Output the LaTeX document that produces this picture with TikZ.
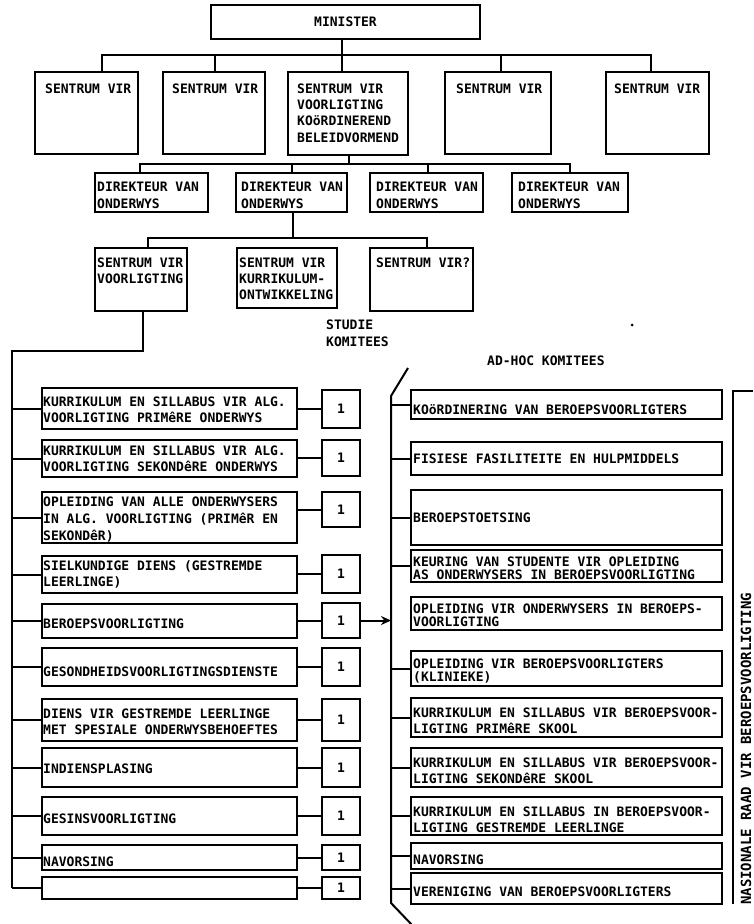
\documentclass[tikz,border=0pt]{standalone}
\usepackage{fontspec}
\newfontfamily\tw{DejaVu Sans Mono}[BoldFont={DejaVu Sans Mono Bold}]
\usetikzlibrary{arrows.meta}
\newcommand\mkbox[5]{\node[bx, minimum width={(#4)-(#2)}, minimum height={(#5)-(#3)}] (#1) at ({((#2)+(#4))/2},{((#3)+(#5))/2}) {};}
\newcommand\mktext[5][]{\node[txt,#1] (#2) at (#3,{(#4)-4.75}) {#5};}
\begin{document}
\begin{tikzpicture}[x=1pt,y=-1pt,
  bx/.style={draw, line width=2pt, inner sep=0pt, outer sep=0pt},
  txt/.style={font=\tw\bfseries\fontsize{13}{16.3}\selectfont, inner sep=0pt, anchor=north west, align=left},
  tight/.style={font=\tw\bfseries\fontsize{13}{13.5}\selectfont},
  ln/.style={line width=2pt}]
\useasboundingbox (0,0) rectangle (753,924);
\fill[white] (0,0) rectangle (753,924);
% ---------- top level ----------
\mkbox{min}{211}{5}{480}{39}
\node[txt, anchor=center] (mint) at (min.center) {MINISTER};
\mkbox{s1}{35}{72}{138}{154}
\mkbox{s2}{163}{72}{265}{154}
\mkbox{s3}{288}{72}{408}{155}
\mkbox{s4}{445}{72}{551}{154}
\mkbox{s5}{606}{72}{709}{154}
\mktext{s1t}{45}{88}{SENTRUM VIR}
\mktext{s2t}{172}{88}{SENTRUM VIR}
\mktext{s3t}{297}{88}{SENTRUM VIR\\VOORLIGTING\\KOöRDINEREND\\BELEIDVORMEND}
\mktext{s4t}{456}{88}{SENTRUM VIR}
\mktext{s5t}{614}{88}{SENTRUM VIR}
\coordinate (bus1) at (0,55);
\coordinate (mind) at ([xshift=-3.5pt]min.south);
\coordinate (s1d) at ([xshift=15.5pt]s1.north);
\coordinate (s2d) at ([xshift=1pt]s2.north);
\coordinate (s3d) at ([xshift=-6pt]s3.north);
\coordinate (s4d) at ([xshift=3pt]s4.north);
\coordinate (s5d) at ([xshift=-6.5pt]s5.north);
\draw[ln] (s1d) |- (s5d |- bus1) -- (s5d);
\draw[ln] (mind) -- (mind |- bus1);
\draw[ln] (s2d) -- (s2d |- bus1);
\draw[ln] (s3d) -- (s3d |- bus1);
\draw[ln] (s4d) -- (s4d |- bus1);
% ---------- directors ----------
\mkbox{d1}{95}{173}{208}{212}
\mkbox{d2}{236}{173}{347}{212}
\mkbox{d3}{370}{173}{483}{212}
\mkbox{d4}{512}{173}{628}{212}
\mktext{d1t}{97}{187}{DIREKTEUR VAN\\ONDERWYS}
\mktext{d2t}{241}{187}{DIREKTEUR VAN\\ONDERWYS}
\mktext{d3t}{376}{187}{DIREKTEUR VAN\\ONDERWYS}
\mktext{d4t}{518}{187}{DIREKTEUR VAN\\ONDERWYS}
\coordinate (bus2) at (0,164);
\coordinate (s3u) at ([xshift=1pt]s3.south);
\coordinate (d1d) at ([xshift=-11.5pt]d1.north);
\coordinate (d2d) at (d2.north);
\coordinate (d3d) at ([xshift=1.5pt]d3.north);
\coordinate (d4d) at (d4.north);
\draw[ln] (d1d) |- (d4d |- bus2) -- (d4d);
\draw[ln] (s3u) -- (s3u |- bus2);
\draw[ln] (d2d) -- (d2d |- bus2);
\draw[ln] (d3d) -- (d3d |- bus2);
% ---------- third level ----------
\mkbox{sa}{95}{248}{187}{311}
\mkbox{sb}{237}{248}{337}{308}
\mkbox{sc}{370}{248}{473}{311}
\mktext{sat}{97}{262}{SENTRUM VIR\\VOORLIGTING}
\mktext{sbt}{239}{262}{SENTRUM VIR\\KURRIKULUM-\\ONTWIKKELING}
\mktext{sct}{376}{262}{SENTRUM VIR?}
\coordinate (bus3) at (0,238);
\coordinate (d2u) at ([xshift=1.5pt]d2.south);
\coordinate (sad) at ([xshift=7pt]sa.north);
\coordinate (scd) at ([xshift=5.5pt]sc.north);
\draw[ln] (sad) |- (scd |- bus3) -- (scd);
\draw[ln] (d2u) -- (d2u |- bus3);
\fill (632,325) circle (1.5pt);
% ---------- labels ----------
\node[txt] (studie) at (326,{324-4.75}) {STUDIE\\[1.5pt]KOMITEES};
\mktext{adhoc}{487}{360}{AD-HOC KOMITEES}
% ---------- left column ----------
\coordinate (ltop) at (12,351);
\coordinate (lbot) at (12,888);
\coordinate (sau) at ([xshift=2pt]sa.south);
\draw[ln] (sau) |- (ltop) -- (lbot);
\mkbox{L1}{42}{388}{297}{429}
\mkbox{L2}{42}{440}{297}{477}
\mkbox{L3}{42}{492}{297}{543}
\mkbox{L4}{42}{556}{297}{593}
\mkbox{L5}{42}{604}{297}{638}
\mkbox{L6}{42}{648}{297}{686}
\mkbox{L7}{42}{699}{297}{741}
\mkbox{L8}{42}{748}{297}{787}
\mkbox{L9}{42}{797}{297}{835}
\mkbox{L10}{42}{845}{297}{870}
\mkbox{L11}{42}{877}{297}{899}
\mkbox{N1}{322}{390}{360}{428}
\mkbox{N2}{322}{440}{360}{476}
\mkbox{N3}{322}{492}{360}{527}
\mkbox{N4}{322}{555}{360}{593}
\mkbox{N5}{322}{603}{360}{638}
\mkbox{N6}{322}{648}{360}{686}
\mkbox{N7}{322}{699}{360}{741}
\mkbox{N8}{322}{748}{360}{787}
\mkbox{N9}{322}{797}{360}{835}
\mkbox{N10}{322}{845}{360}{870}
\mkbox{N11}{322}{877}{360}{899}
\foreach \k in {1,...,11}{
  \node[txt, anchor=center] (N\k t) at (N\k.center) {1};
  \draw[ln] (L\k.west) -- (L\k.west -| ltop);
  \draw[ln] (N\k.west) -- (N\k.west -| L\k.east);
}
\mktext{L1t}{43}{401}{KURRIKULUM EN SILLABUS VIR ALG.\\VOORLIGTING PRIMêRE ONDERWYS}
\mktext{L2t}{43}{450}{KURRIKULUM EN SILLABUS VIR ALG.\\VOORLIGTING SEKONDêRE ONDERWYS}
\mktext[font=\tw\bfseries\fontsize{13}{17}\selectfont]{L3t}{43}{501}{OPLEIDING VAN ALLE ONDERWYSERS\\IN ALG. VOORLIGTING (PRIMêR EN\\SEKONDêR)}
\mktext{L4t}{43}{565}{SIELKUNDIGE DIENS (GESTREMDE\\LEERLINGE)}
\mktext{L5t}{43}{623}{BEROEPSVOORLIGTING}
\mktext{L6t}{43}{671}{GESONDHEIDSVOORLIGTINGSDIENSTE}
\mktext{L7t}{43}{713}{DIENS VIR GESTREMDE LEERLINGE\\MET SPESIALE ONDERWYSBEHOEFTES}
\mktext{L8t}{43}{768}{INDIENSPLASING}
\mktext{L9t}{43}{818}{GESINSVOORLIGTING}
\mktext{L10t}{43}{861}{NAVORSING}
% ---------- right column ----------
\coordinate (rs1) at (408,368);
\coordinate (rtop) at (391,396);
\coordinate (rbot) at (391,903);
\coordinate (rs2) at (413,926);
\draw[ln] (rs1) -- (rtop) -- (rbot) -- (rs2);
\mkbox{R1}{411}{390}{722}{419}
\mkbox{R2}{411}{442}{722}{475}
\mkbox{R3}{411}{490}{722}{545}
\mkbox{R4}{411}{550}{722}{582}
\mkbox{R5}{411}{597}{722}{630}
\mkbox{R6}{411}{651}{722}{686}
\mkbox{R7}{411}{698}{722}{737}
\mkbox{R8}{411}{748}{722}{787}
\mkbox{R9}{411}{797}{722}{835}
\mkbox{R10}{411}{843}{722}{869}
\mkbox{R11}{411}{873}{722}{904}
\foreach \k in {1,2,3,4,6,7,8,9,10,11}{
  \draw[ln] (R\k.west) -- (R\k.west -| rtop);
}
\draw[ln, -{Stealth[length=10pt,width=9pt]}] (N5.east) -- (N5.east -| rtop);
\mktext{R1t}{413}{409}{KOöRDINERING VAN BEROEPSVOORLIGTERS}
\mktext{R2t}{413}{458}{FISIESE FASILITEITE EN HULPMIDDELS}
\mktext{R3t}{413}{517}{BEROEPSTOETSING}
\mktext[tight]{R4t}{413}{561}{KEURING VAN STUDENTE VIR OPLEIDING\\AS ONDERWYSERS IN BEROEPSVOORLIGTING}
\mktext[tight]{R5t}{413}{608}{OPLEIDING VIR ONDERWYSERS IN BEROEPS-\\VOORLIGTING}
\mktext[tight]{R6t}{413}{663}{OPLEIDING VIR BEROEPSVOORLIGTERS\\(KLINIEKE)}
\mktext{R7t}{413}{712}{KURRIKULUM EN SILLABUS VIR BEROEPSVOOR-\\LIGTING PRIMêRE SKOOL}
\mktext{R8t}{413}{762}{KURRIKULUM EN SILLABUS VIR BEROEPSVOOR-\\LIGTING SEKONDêRE SKOOL}
\mktext{R9t}{413}{811}{KURRIKULUM EN SILLABUS IN BEROEPSVOOR-\\LIGTING GESTREMDE LEERLINGE}
\mktext{R10t}{413}{859}{NAVORSING}
\mktext{R11t}{413}{891}{VERENIGING VAN BEROEPSVOORLIGTERS}
% ---------- national council bracket ----------
\coordinate (btr) at (753,391);
\coordinate (bt) at (733,391);
\coordinate (bb) at (733,904);
\draw[ln] (btr) -- (bt) -- (bb);
\node[txt, font=\tw\bfseries\fontsize{14}{16}\selectfont, rotate=90, anchor=west] (raad) at (746,905) {NASIONALE RAAD VIR BEROEPSVOORLIGTING};
\end{tikzpicture}
\end{document}
